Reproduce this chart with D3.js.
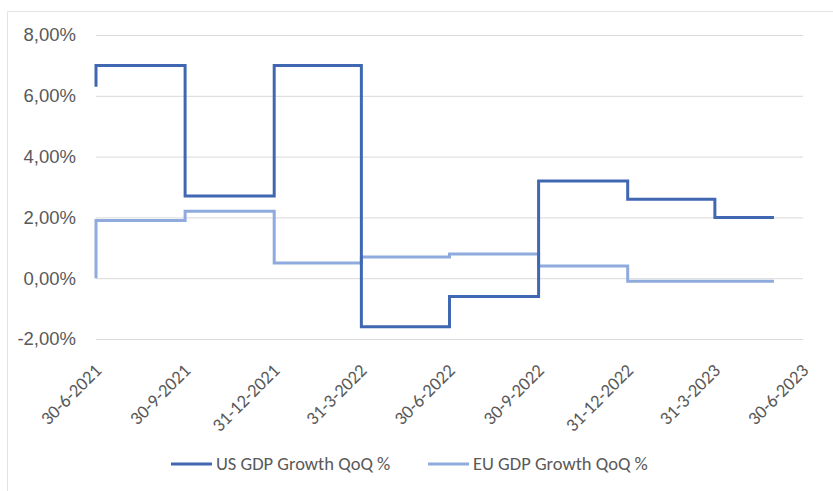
<!DOCTYPE html>
<html>
<head>
<meta charset="utf-8">
<script src="https://cdn.jsdelivr.net/npm/d3@7"></script>
<style>
  body { margin: 0; background: #fff; }
  svg { display: block; font-family: Carlito, Calibri, Lato, sans-serif; }
</style>
</head>
<body>
<svg id="chart" width="833" height="491"></svg>
<script>
// quarter-end dates where the reported value changes (last entry = end of series)
const dates = ['2021-06-30', '2021-09-30', '2021-12-31', '2022-03-31', '2022-06-30',
               '2022-09-30', '2022-12-31', '2023-03-31', '2023-05-31'];
// value held up to each date (step before)
const usGrowth = [6.3, 7.0, 2.7, 7.0, -1.6, -0.6, 3.2, 2.6, 2.0];
const euGrowth = [0.0, 1.9, 2.2, 0.5, 0.7, 0.8, 0.4, -0.1, -0.1];

const tickDates = ['2021-06-30', '2021-09-30', '2021-12-31', '2022-03-31', '2022-06-30',
                   '2022-09-30', '2022-12-31', '2023-03-31', '2023-06-30'];
const yTicks = [-2, 0, 2, 4, 6, 8];

const seriesNames = ['US GDP Growth QoQ %', 'EU GDP Growth QoQ %'];
const seriesColors = ['#4068b2', '#8faadc'];

const parse = d3.timeParse('%Y-%m-%d');
const width = 833, height = 491;
const plot = {left: 96, right: 803, top: 35, bottom: 339};
const fontSize = '18.5px';

const svg = d3.select('#chart');

// chart area border
svg.append('path')
    .attr('d', `M7.5,${height} V11.5 H${width}`)
    .style('fill', 'none')
    .style('stroke', '#e3e3e3')
    .style('stroke-width', 1);

const x = d3.scaleTime()
    .domain([parse(tickDates[0]), parse(tickDates[tickDates.length - 1])])
    .range([plot.left, plot.right]);

const y = d3.scaleLinear()
    .domain([-2, 8])
    .range([plot.bottom, plot.top]);

const fmt = v => d3.format('.2f')(v).replace('.', ',').replace('\u2212', '-') + '%';

// gridlines + y labels
const yAxis = svg.append('g')
    .attr('transform', `translate(${plot.left},0)`)
    .call(d3.axisLeft(y)
        .tickValues(yTicks)
        .tickSize(-(plot.right - plot.left))
        .tickPadding(20)
        .tickFormat(fmt));
yAxis.select('.domain').remove();
yAxis.selectAll('line')
    .style('stroke', '#d9d9d9')
    .style('stroke-width', 1);
yAxis.selectAll('text')
    .style('fill', '#595959')
    .style('font-size', fontSize)
    .style('font-family', null);

// x labels, rotated
svg.append('g')
    .selectAll('text')
    .data(tickDates)
    .join('text')
        .attr('transform', d => `translate(${x(parse(d)) + 2},${plot.bottom + 28}) rotate(-45)`)
        .attr('dy', '0.35em')
        .style('text-anchor', 'end')
        .style('fill', '#595959')
        .style('font-size', fontSize)
        .text(d => {
            const t = parse(d);
            return `${t.getDate()}-${t.getMonth() + 1}-${t.getFullYear()}`;
        });

const line = d3.line()
    .x(d => x(d.date))
    .y(d => y(d.value))
    .curve(d3.curveStepBefore);

const series = [euGrowth, usGrowth].map((vals, i) =>
    vals.map((v, j) => ({date: parse(dates[j]), value: v})));

// EU drawn first, US on top
svg.append('path')
    .datum(series[0])
    .attr('d', line)
    .style('fill', 'none')
    .style('stroke', seriesColors[1])
    .style('stroke-width', 3);

svg.append('path')
    .datum(series[1])
    .attr('d', line)
    .style('fill', 'none')
    .style('stroke', seriesColors[0])
    .style('stroke-width', 3);

// legend
const legendX = [171, 428];
const legend = svg.append('g')
    .selectAll('g')
    .data(seriesNames)
    .join('g')
        .attr('transform', (d, i) => `translate(${legendX[i]},464)`);
legend.append('line')
    .attr('x1', 0).attr('x2', 41)
    .style('stroke', (d, i) => seriesColors[i])
    .style('stroke-width', 3);
legend.append('text')
    .attr('x', 45)
    .attr('dy', '0.35em')
    .style('fill', '#595959')
    .style('font-size', fontSize)
    .text(d => d);
</script>
</body>
</html>
